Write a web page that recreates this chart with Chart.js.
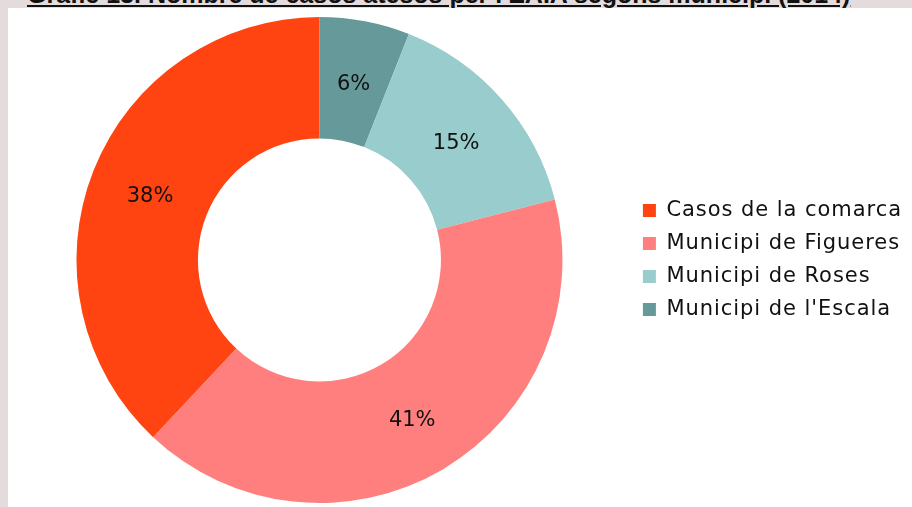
<!DOCTYPE html>
<html>
<head>
<meta charset="utf-8">
<script src="https://cdn.jsdelivr.net/npm/chart.js@4.4.1/dist/chart.umd.min.js"></script>
<style>
  html, body { margin: 0; padding: 0; }
  body { width: 912px; height: 507px; background: #e4dcdc; position: relative; overflow: hidden; }
  #title {
    position: absolute; left: 27px; top: -21px; white-space: nowrap;
    font: bold 25px "Liberation Sans", Arial, sans-serif; line-height: 30px;
    color: #111; text-decoration: underline;
  }
  #panel { position: absolute; left: 8px; top: 8px; width: 904px; height: 499px; background: #fff; }
  #chart { display: block; }
</style>
</head>
<body>
<div id="title">Gràfic 13. Nombre de casos atesos per l'EAIA segons municipi (2014)</div>
<div id="panel"><canvas id="chart" width="904" height="499"></canvas></div>
<script>
// dades (ordre de dibuix, en sentit horari des de dalt)
const labels = ["Municipi de l'Escala", "Municipi de Roses", "Municipi de Figueres", "Casos de la comarca"];
const values = [6, 15, 41, 38];
const colors = ["#669999", "#99CCCC", "#FF7F7F", "#FF4411"];

// espaiat de lletres de la llegenda
const spacing = {
  id: "spacing",
  beforeUpdate(chart) { chart.ctx.letterSpacing = "0.95px"; },
  beforeDraw(chart) { chart.ctx.letterSpacing = "0.95px"; }
};

// percentatges dins de cada sector
const pctLabels = {
  id: "pctLabels",
  afterDatasetsDraw(chart) {
    const ctx = chart.ctx;
    const meta = chart.getDatasetMeta(0);
    const total = values.reduce((a, b) => a + b, 0);
    ctx.save();
    ctx.letterSpacing = "0px";
    ctx.font = "21px 'DejaVu Sans'";
    ctx.fillStyle = "#111";
    ctx.textAlign = "center";
    ctx.textBaseline = "middle";
    meta.data.forEach((arc, i) => {
      const p = arc.tooltipPosition();
      ctx.fillText(Math.round(values[i] / total * 100) + "%", p.x, p.y + 4);
    });
    ctx.restore();
  }
};

new Chart(document.getElementById("chart"), {
  type: "doughnut",
  data: {
    labels: labels,
    datasets: [{
      data: values,
      backgroundColor: colors,
      borderWidth: 0
    }]
  },
  options: {
    responsive: false,
    animation: false,
    cutout: "50%",
    layout: { padding: { top: 9, bottom: 4 } },
    plugins: {
      tooltip: { enabled: false },
      legend: {
        position: "right",
        reverse: true,
        labels: {
          boxWidth: 13,
          boxHeight: 13,
          padding: 12,
          color: "#111",
          font: { family: "DejaVu Sans", size: 21 }
        }
      }
    }
  },
  plugins: [spacing, pctLabels]
});
</script>
</body>
</html>
